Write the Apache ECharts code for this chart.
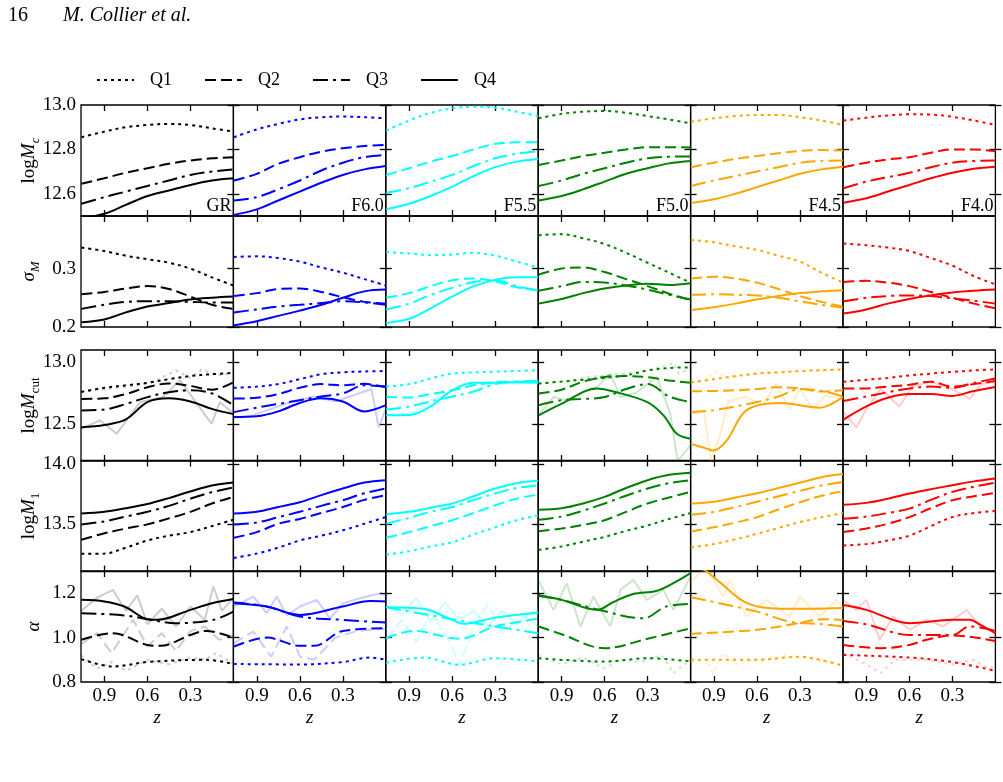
<!DOCTYPE html>
<html>
<head>
<meta charset="utf-8">
<script src="https://cdn.jsdelivr.net/npm/echarts@6/dist/echarts.min.js"></script>
<style>html,body{margin:0;padding:0;background:#fff}#chart{width:1003px;height:782px}</style>
</head>
<body>
<div id="chart"></div>
<script>
// redshift grid used by most curves (pairs [z, v] are used where a curve wiggles more)
const zGrid = [1.06, 0.9, 0.75, 0.6, 0.45, 0.3, 0.15, 0];
const models = ['GR', 'F6.0', 'F5.5', 'F5.0', 'F4.5', 'F4.0'];
const colors = ['#000000', '#0000ff', '#00ffff', '#008000', '#ffa500', '#ff0000'];
const quartiles = ['Q1', 'Q2', 'Q3', 'Q4'];
const zTicks = [0.3, 0.6, 0.9];

// log Mc  [Q1, Q2, Q3, Q4] per model
const logMc = [
  [[12.855,12.88,12.90,12.91,12.915,12.91,12.895,12.88],
   [12.645,12.67,12.695,12.715,12.735,12.75,12.76,12.765],
   [12.555,12.585,12.61,12.635,12.66,12.685,12.70,12.71],
   [12.49,12.51,12.55,12.59,12.615,12.64,12.66,12.67]],
  [[12.855,12.89,12.915,12.935,12.945,12.948,12.945,12.94],
   [12.66,12.69,12.735,12.765,12.79,12.805,12.815,12.82],
   [12.57,12.585,12.62,12.66,12.705,12.74,12.765,12.775],
   [12.505,12.53,12.57,12.61,12.65,12.685,12.71,12.725]],
  [[12.885,12.93,12.965,12.985,12.992,12.988,12.97,12.95],
   [12.685,12.715,12.745,12.77,12.80,12.825,12.832,12.832],
   [12.605,12.625,12.655,12.685,12.725,12.76,12.78,12.792],
   [12.53,12.555,12.59,12.632,12.68,12.72,12.745,12.757]],
  [[12.94,12.96,12.97,12.973,12.965,12.95,12.935,12.917],
   [12.73,12.75,12.77,12.785,12.80,12.81,12.81,12.808],
   [12.635,12.66,12.69,12.715,12.74,12.76,12.767,12.768],
   [12.57,12.59,12.62,12.655,12.69,12.715,12.737,12.748]],
  [[12.925,12.94,12.95,12.955,12.955,12.945,12.93,12.91],
   [12.72,12.74,12.757,12.77,12.783,12.793,12.797,12.795],
   [12.635,12.66,12.68,12.70,12.72,12.74,12.748,12.75],
   [12.558,12.575,12.60,12.63,12.66,12.69,12.71,12.722]],
  [[12.93,12.943,12.953,12.958,12.957,12.947,12.93,12.91],
   [12.72,12.74,12.755,12.765,12.785,12.8,12.8,12.792],
   [12.625,12.655,12.675,12.695,12.72,12.74,12.748,12.75],
   [12.56,12.58,12.61,12.64,12.67,12.695,12.713,12.722]]
];

const sigmaM = [
  [[0.336,0.33,0.322,0.316,0.31,0.30,0.285,0.271],
   [0.256,0.26,0.266,0.27,0.265,0.252,0.238,0.231],
   [0.231,0.238,0.243,0.244,0.244,0.243,0.242,0.242],
   [0.208,0.213,0.225,0.235,0.241,0.247,0.25,0.252]],
  [[0.32,0.321,0.318,0.312,0.302,0.293,0.282,0.271],
   [0.253,0.258,0.265,0.266,0.26,0.251,0.243,0.24],
   [0.225,0.23,0.235,0.238,0.241,0.244,0.242,0.238],
   [0.203,0.21,0.219,0.228,0.238,0.25,0.261,0.264]],
  [[0.328,0.326,0.323,0.324,0.327,0.322,0.312,0.302],
   [0.25,0.258,0.27,0.28,0.283,0.278,0.268,0.263],
   [0.23,0.24,0.255,0.267,0.277,0.28,0.27,0.262],
   [0.207,0.214,0.232,0.252,0.27,0.281,0.285,0.285]],
  [[0.357,0.359,0.352,0.342,0.327,0.31,0.293,0.276],
   [0.29,0.3,0.302,0.294,0.282,0.27,0.257,0.246],
   [0.262,0.27,0.277,0.276,0.271,0.264,0.255,0.247],
   [0.24,0.248,0.258,0.266,0.271,0.274,0.272,0.275]],
  [[0.349,0.345,0.338,0.332,0.322,0.312,0.293,0.276],
   [0.283,0.286,0.283,0.276,0.265,0.253,0.243,0.235],
   [0.255,0.256,0.255,0.254,0.25,0.244,0.238,0.233],
   [0.229,0.234,0.24,0.247,0.253,0.258,0.261,0.263]],
  [[0.343,0.34,0.336,0.33,0.318,0.305,0.287,0.273],
   [0.277,0.279,0.276,0.27,0.26,0.25,0.24,0.232],
   [0.244,0.25,0.253,0.254,0.253,0.249,0.245,0.24],
   [0.223,0.23,0.24,0.248,0.254,0.259,0.262,0.264]]
];

const logMcut = [
  [[12.757,12.79,12.81,12.83,12.86,12.885,12.9,12.91],
   [12.70,12.705,12.74,12.795,12.825,12.805,12.775,12.835],
   [12.608,12.615,12.66,12.715,12.755,12.77,12.745,12.65],
   [12.473,12.49,12.535,12.675,12.705,12.68,12.62,12.578]],
  [[12.79,12.8,12.82,12.86,12.9,12.915,12.922,12.925],
   [12.703,12.71,12.74,12.79,12.82,12.81,12.822,12.795],
   [12.594,12.63,12.66,12.69,12.72,12.745,12.81,12.8],
   [12.554,12.56,12.6,12.668,12.705,12.68,12.6,12.65]],
  [[12.8,12.82,12.865,12.905,12.915,12.92,12.926,12.932],
   [12.716,12.712,12.74,12.77,12.81,12.835,12.84,12.838],
   [12.616,12.64,12.68,12.72,12.76,12.82,12.84,12.845],
   [12.568,12.57,12.64,12.77,12.83,12.83,12.835,12.83]],
  [[12.825,12.84,12.855,12.87,12.89,12.93,12.95,12.955],
   [12.744,12.775,12.84,12.878,12.885,12.875,12.85,12.83],
   [12.65,12.69,12.7,12.716,12.78,12.82,12.72,12.675],
   [[1.06,12.568],[0.898,12.663],[0.653,12.784],[0.537,12.76],[0.305,12.676],[0.189,12.568],[0.096,12.419],[0,12.379]]],
  [[12.833,12.86,12.885,12.905,12.915,12.925,12.932,12.938],
   [12.762,12.765,12.77,12.78,12.795,12.785,12.76,12.77],
   [12.594,12.61,12.64,12.675,12.72,12.78,12.765,12.72],
   [[1.06,12.338],[0.95,12.30],[0.907,12.284],[0.814,12.36],[0.674,12.608],[0.442,12.668],[0.163,12.63],[0,12.716]]],
  [[12.838,12.855,12.87,12.89,12.905,12.918,12.93,12.938],
   [12.784,12.785,12.8,12.815,12.84,12.8,12.82,12.845],
   [12.684,12.72,12.755,12.785,12.8,12.79,12.83,12.865],
   [12.533,12.64,12.71,12.74,12.74,12.725,12.765,12.797]]
];

const logM1 = [
  [[13.248,13.25,13.3,13.36,13.4,13.43,13.48,13.534],
   [13.366,13.42,13.46,13.495,13.545,13.6,13.67,13.725],
   [13.494,13.52,13.56,13.6,13.65,13.71,13.765,13.804],
   [13.585,13.6,13.63,13.665,13.715,13.77,13.82,13.845]],
  [[13.214,13.25,13.3,13.36,13.4,13.445,13.5,13.556],
   [13.382,13.43,13.5,13.54,13.59,13.64,13.7,13.739],
   [13.494,13.51,13.555,13.6,13.65,13.697,13.755,13.795],
   [13.585,13.6,13.64,13.68,13.74,13.795,13.845,13.865]],
  [[13.242,13.27,13.31,13.345,13.41,13.47,13.53,13.57],
   [13.382,13.43,13.48,13.53,13.59,13.655,13.71,13.744],
   [13.5,13.55,13.6,13.64,13.7,13.753,13.8,13.823],
   [13.579,13.6,13.635,13.67,13.73,13.795,13.84,13.86]],
  [[13.28,13.31,13.35,13.39,13.44,13.486,13.54,13.59],
   [13.438,13.46,13.49,13.53,13.6,13.67,13.72,13.767],
   [13.534,13.56,13.61,13.67,13.735,13.795,13.84,13.865],
   [13.618,13.63,13.67,13.725,13.8,13.865,13.91,13.927]],
  [[13.303,13.33,13.37,13.416,13.465,13.514,13.555,13.59],
   [13.436,13.47,13.51,13.555,13.62,13.68,13.735,13.775],
   [13.576,13.6,13.64,13.685,13.73,13.775,13.82,13.851],
   [13.669,13.685,13.72,13.755,13.8,13.843,13.89,13.916]],
  [[13.318,13.33,13.36,13.4,13.48,13.556,13.59,13.607],
   [13.43,13.46,13.5,13.556,13.63,13.697,13.73,13.758],
   [13.542,13.56,13.59,13.627,13.7,13.767,13.81,13.845],
   [13.66,13.675,13.71,13.753,13.79,13.823,13.855,13.88]]
];

const alpha = [
  [[[1.06,0.903],[0.84,0.87],[0.6,0.89],[0.19,0.9],[0,0.881]],
   [[1.06,0.99],[0.84,1.02],[0.6,0.967],[0.51,0.963],[0.3,1.012],[0.19,1.03],[0,1.0]],
   [[1.06,1.11],[0.76,1.1],[0.6,1.083],[0.4,1.065],[0.14,1.08],[0,1.117]],
   [[1.06,1.17],[0.9,1.163],[0.76,1.14],[0.6,1.083],[0.53,1.08],[0.3,1.125],[0.15,1.155],[0,1.174]]],
  [[[1.06,0.881],[0.6,0.879],[0.3,0.89],[0.11,0.91],[0,0.9]],
   [[1.06,0.96],[0.83,1.0],[0.6,0.963],[0.5,0.963],[0.3,1.03],[0,1.042]],
   [[1.06,1.158],[0.83,1.14],[0.6,1.095],[0.3,1.08],[0,1.068]],
   [[1.06,1.155],[0.83,1.14],[0.6,1.102],[0.3,1.14],[0.11,1.165],[0,1.163]]],
  [[[1.06,0.887],[0.8,0.91],[0.55,0.878],[0.3,0.907],[0,0.893]],
   [[1.06,0.998],[0.87,1.03],[0.55,0.995],[0.3,1.05],[0,1.085]],
   [[1.06,1.137],[0.6,1.083],[0.3,1.05],[0,1.02]],
   [[1.06,1.137],[0.8,1.13],[0.6,1.08],[0.52,1.062],[0.3,1.09],[0,1.113]]],
  [[[1.06,0.907],[0.6,0.892],[0.3,0.907],[0,0.893]],
   [[1.06,1.05],[0.9,1.015],[0.6,0.952],[0.3,0.995],[0,1.042]],
   [[1.06,1.187],[0.9,1.17],[0.65,1.127],[0.33,1.087],[0.17,1.14],[0,1.152]],
   [[1.06,1.192],[0.9,1.17],[0.65,1.125],[0.54,1.16],[0.4,1.196],[0.24,1.21],[0.12,1.245],[0,1.29]]],
  [[[1.06,0.9],[0.6,0.9],[0.3,0.914],[0.16,0.9],[0,0.873]],
   [[1.06,1.017],[0.6,1.035],[0.37,1.058],[0.12,1.083],[0,1.08]],
   [[1.06,1.182],[0.6,1.117],[0.37,1.072],[0.14,1.06],[0,1.05]],
   [[1.06,1.34],[0.95,1.297],[0.86,1.25],[0.67,1.155],[0.44,1.13],[0.21,1.13],[0,1.133]]],
  [[[1.06,0.922],[0.6,0.91],[0.3,0.89],[0,0.85]],
   [[1.06,0.967],[0.8,0.952],[0.6,0.967],[0.48,0.99],[0.3,1.01],[0,0.985]],
   [[1.06,1.075],[0.9,1.06],[0.6,1.012],[0.3,1.012],[0.18,1.05],[0,1.03]],
   [[1.06,1.147],[0.9,1.125],[0.6,1.065],[0.3,1.08],[0.18,1.08],[0.11,1.06],[0,1.02]]]
];

// raw (un-smoothed) measurements drawn faintly: [row, model, quartile, points]
const rawLines = [
  [2, 0, 3, [[1.063,12.46],[0.93,12.527],[0.814,12.42],[0.65,12.676],[0.489,12.716],[0.373,12.85],[0.28,12.703],[0.152,12.5],[0.094,12.676],[0,12.582]]],
  [2, 0, 0, [[1.063,12.76],[0.8,12.79],[0.6,12.82],[0.45,12.9],[0.4,12.93],[0.3,12.87],[0.22,12.94],[0.12,12.89],[0,12.91]]],
  [2, 1, 3, [[1.063,12.55],[0.95,12.56],[0.8,12.62],[0.65,12.68],[0.5,12.72],[0.35,12.68],[0.2,12.74],[0.1,12.78],[0.05,12.47],[0,12.62]]],
  [2, 2, 3, [[1.063,12.57],[0.95,12.58],[0.85,12.6],[0.75,12.69],[0.65,12.73],[0.55,12.8],[0.45,12.83],[0.35,12.81],[0.25,12.85],[0.15,12.82],[0.05,12.85],[0,12.83]]],
  [2, 3, 3, [[1.063,12.568],[0.956,12.716],[0.87,12.69],[0.75,12.76],[0.65,12.8],[0.561,12.906],[0.49,12.716],[0.38,12.75],[0.235,12.878],[0.142,12.58],[0.09,12.2],[0,12.33]]],
  [2, 3, 0, [[1.063,12.82],[0.85,12.85],[0.7,12.88],[0.5,12.9],[0.3,12.93],[0.12,12.99],[0.08,12.9],[0,12.95]]],
  [2, 4, 3, [[1.063,12.58],[0.97,12.6],[0.92,12.2],[0.86,12.4],[0.8,12.68],[0.68,12.72],[0.56,12.65],[0.47,12.82],[0.37,12.62],[0.3,12.78],[0.21,12.62],[0.12,12.73],[0,12.7]]],
  [2, 4, 0, [[1.063,12.83],[0.95,12.85],[0.9,12.92],[0.8,12.87],[0.6,12.9],[0.4,12.92],[0,12.94]]],
  [2, 5, 3, [[1.063,12.6],[0.97,12.47],[0.9,12.62],[0.8,12.78],[0.67,12.64],[0.58,12.8],[0.45,12.84],[0.3,12.78],[0.18,12.7],[0.1,12.82],[0,12.84]]],
  [4, 0, 3, [[1.063,1.12],[0.95,1.18],[0.84,1.215],[0.75,1.12],[0.67,1.19],[0.6,1.06],[0.5,1.13],[0.4,1.05],[0.3,1.14],[0.2,1.08],[0.14,1.23],[0.08,1.12],[0,1.18]]],
  [4, 0, 1, [[1.063,0.97],[0.95,1.02],[0.85,0.93],[0.7,1.08],[0.6,0.96],[0.5,1.02],[0.4,0.94],[0.3,1.03],[0.2,1.05],[0.1,0.99],[0,1.01]]],
  [4, 0, 0, [[1.063,0.92],[0.95,0.86],[0.85,0.89],[0.75,0.85],[0.6,0.9],[0.45,0.88],[0.3,0.91],[0.2,0.9],[0.12,0.93],[0,0.88]]],
  [4, 1, 3, [[1.063,1.14],[0.924,1.185],[0.831,1.11],[0.761,1.185],[0.691,1.1],[0.598,1.14],[0.482,1.17],[0.389,1.087],[0.296,1.155],[0.18,1.177],[0.04,1.2],[0,1.19]]],
  [4, 1, 1, [[1.063,0.975],[0.924,1.027],[0.8,0.914],[0.691,1.05],[0.598,0.914],[0.5,0.9],[0.35,1.0],[0.2,1.03],[0,1.04]]],
  [4, 2, 3, [[1.063,1.15],[0.95,1.1],[0.85,1.18],[0.75,1.07],[0.65,1.16],[0.55,1.08],[0.45,1.12],[0.35,1.05],[0.25,1.12],[0.15,1.06],[0.05,1.11],[0,1.1]]],
  [4, 2, 1, [[1.063,0.99],[0.95,1.08],[0.85,0.98],[0.75,1.12],[0.6,0.96],[0.55,0.87],[0.45,1.05],[0.35,1.15],[0.25,1.02],[0.1,1.1],[0,1.05]]],
  [4, 3, 3, [[1.063,1.26],[0.956,1.125],[0.863,1.245],[0.77,1.05],[0.677,1.185],[0.56,1.05],[0.49,1.215],[0.398,1.26],[0.305,1.17],[0.19,1.215],[0.12,1.125],[0,1.275]]],
  [4, 3, 0, [[1.063,0.92],[0.9,0.88],[0.75,0.91],[0.6,0.86],[0.5,0.9],[0.35,0.89],[0.2,0.92],[0.12,0.84],[0,0.9]]],
  [4, 4, 3, [[1.063,1.25],[0.95,1.32],[0.838,1.185],[0.79,1.26],[0.674,1.095],[0.535,1.17],[0.372,1.095],[0.302,1.185],[0.163,1.095],[0.046,1.17],[0,1.14]]],
  [4, 4, 0, [[1.063,0.89],[0.95,0.9],[0.907,0.84],[0.838,0.93],[0.75,0.88],[0.6,0.9],[0.4,0.92],[0.2,0.9],[0,0.88]]],
  [4, 5, 3, [[1.063,1.17],[0.97,1.125],[0.9,1.17],[0.807,0.99],[0.714,1.095],[0.598,1.035],[0.481,1.08],[0.365,1.05],[0.2,1.125],[0.109,1.05],[0,1.03]]],
  [4, 5, 0, [[1.063,0.93],[0.9,0.88],[0.8,0.84],[0.7,0.9],[0.5,0.9],[0.3,0.88],[0.15,0.9],[0.05,0.86],[0,0.87]]]
];

const rows = [logMc, sigmaM, logMcut, logM1, alpha];
const yRange = [[12.5, 13.0], [0.2, 0.39], [12.2, 13.095], [13.1, 14.03], [0.8, 1.3]];
const yTicks = [[12.6, 12.8, 13.0], [0.2, 0.3], [12.5, 13.0], [13.5, 14.0], [0.8, 1.0, 1.2]];

// layout
const FONT = "'Liberation Serif', 'Times New Roman', serif";
const LEFT0 = 81, COLW = 152.4, ROWH = 111;
const ROW_TOP = [105, 216, 350, 460.5, 571];
const DASH = [[3, 4], [11, 5], [15, 5, 3, 5], 'solid'];

const chart = echarts.init(document.getElementById('chart'));

function toPts(s) {
  return typeof s[0] === 'number' ? s.map((v, i) => [zGrid[i], v]) : s;
}

const grids = [], xAxes = [], yAxes = [], series = [];
const tickStyle = {color: '#000', width: 1.3};
const labelStyle = {fontFamily: FONT, fontSize: 19, color: '#000'};

rows.forEach((rowData, r) => {
  models.forEach((m, c) => {
    const gi = r * 6 + c;
    grids.push({left: LEFT0 + c * COLW, top: ROW_TOP[r], width: COLW, height: ROWH,
      show: true, borderColor: '#000', borderWidth: 1.3, backgroundColor: 'transparent'});
    ['bottom', 'top'].forEach(pos => {
      xAxes.push({gridIndex: gi, type: 'value', position: pos, min: 0, max: 1.063, inverse: true,
        axisLine: {show: false}, splitLine: {show: false},
        axisTick: {show: true, inside: true, length: 6, customValues: zTicks, lineStyle: tickStyle},
        axisLabel: Object.assign({show: pos === 'bottom' && r === 4, customValues: zTicks, margin: 5,
          formatter: v => v.toFixed(1)}, labelStyle)});
    });
    ['left', 'right'].forEach(pos => {
      yAxes.push({gridIndex: gi, type: 'value', position: pos, min: yRange[r][0], max: yRange[r][1],
        axisLine: {show: false}, splitLine: {show: false},
        axisTick: {show: true, inside: true, length: 6, customValues: yTicks[r], lineStyle: tickStyle},
        axisLabel: Object.assign({show: pos === 'left' && c === 0, customValues: yTicks[r], margin: 5,
          formatter: v => v.toFixed(1)}, labelStyle)});
    });
    rowData[c].forEach((s, q) => {
      series.push({type: 'line', xAxisIndex: gi * 2, yAxisIndex: gi * 2, data: toPts(s),
        showSymbol: false, symbol: 'none', smooth: 0.35, silent: true, clip: true, z: 3,
        lineStyle: {color: colors[c], width: 2, type: DASH[q], cap: 'butt'}});
    });
  });
});

rawLines.forEach(([r, c, q, pts]) => {
  const gi = r * 6 + c;
  series.push({type: 'line', xAxisIndex: gi * 2, yAxisIndex: gi * 2, data: pts,
    showSymbol: false, symbol: 'none', silent: true, clip: true, z: 2,
    lineStyle: {color: colors[c], opacity: 0.2, width: 2, type: DASH[q], cap: 'butt'}});
});

// text decorations and legend
const graphic = [];
graphic.push({type: 'text', x: 8, y: 16, style: {text: '16', font: '20px ' + FONT, fill: '#000', verticalAlign: 'middle'}});
graphic.push({type: 'text', x: 63, y: 16, style: {text: 'M. Collier et al.', font: 'italic 20px ' + FONT, fill: '#000', verticalAlign: 'middle'}});
quartiles.forEach((q, i) => {
  const x0 = 97 + i * 108;
  graphic.push({type: 'line', shape: {x1: x0, y1: 80, x2: x0 + 37, y2: 80},
    style: {stroke: '#000', lineWidth: 2, lineDash: DASH[i] === 'solid' ? null : DASH[i]}});
  graphic.push({type: 'text', x: x0 + 53, y: 80,
    style: {text: q, font: '18px ' + FONT, fill: '#000', verticalAlign: 'middle'}});
});
models.forEach((m, c) => {
  graphic.push({type: 'text', x: LEFT0 + (c + 1) * COLW - 2, y: ROW_TOP[0] + ROWH - 1,
    style: {text: m, font: '18px ' + FONT, fill: '#000', align: 'right', verticalAlign: 'bottom'}});
  graphic.push({type: 'text', x: LEFT0 + (c + 0.5) * COLW, y: 718,
    style: {text: 'z', font: 'italic 19px ' + FONT, fill: '#000', align: 'center', verticalAlign: 'middle'}});
});
const rich = {
  n: {fontFamily: FONT, fontSize: 19, lineHeight: 26, verticalAlign: 'middle'},
  i: {fontFamily: FONT, fontSize: 19, fontStyle: 'italic', lineHeight: 26, verticalAlign: 'middle'},
  si: {fontFamily: FONT, fontSize: 13, fontStyle: 'italic', lineHeight: 14, verticalAlign: 'bottom'},
  sn: {fontFamily: FONT, fontSize: 13, lineHeight: 14, verticalAlign: 'bottom'}
};
const yNames = ['{n|log}{i|M}{si|c}', '{i|σ}{si|M}', '{n|log}{i|M}{sn|cut}', '{n|log}{i|M}{sn|1}', '{i|α}'];
yNames.forEach((t, r) => {
  graphic.push({type: 'text', x: r === 4 ? 34 : 29, y: ROW_TOP[r] + ROWH / 2, rotation: Math.PI / 2,
    style: {text: t, rich: rich, fill: '#000', align: 'center', verticalAlign: 'middle'}});
});

chart.setOption({
  animation: false,
  backgroundColor: '#fff',
  grid: grids,
  xAxis: xAxes,
  yAxis: yAxes,
  series: series,
  graphic: graphic
});
</script>
</body>
</html>
